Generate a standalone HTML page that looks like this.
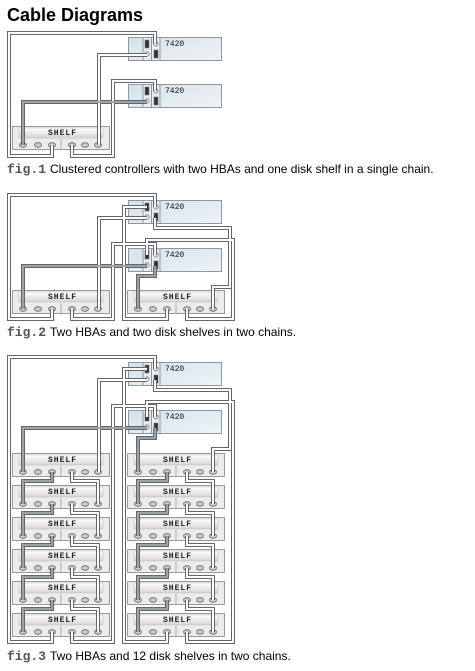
<!DOCTYPE html>
<html><head><meta charset="utf-8"><style>
body{margin:0;background:#fff;width:475px;height:671px;overflow:hidden;font-family:"Liberation Sans",sans-serif}
svg{position:absolute;left:0;top:0}
.o{stroke:#666;stroke-width:4;fill:none}
.i{stroke:#fff;stroke-width:2;fill:none}
.d{stroke:#97a3ad;stroke-width:2;fill:none}
.sh{font-family:"Liberation Mono",monospace;font-size:8px;font-weight:bold;letter-spacing:1px;fill:#222}
.ct{font-family:"Liberation Mono",monospace;font-size:8px;fill:#111}
.cap{font-size:12px;fill:#000}
.fg{font-family:"Liberation Mono",monospace;font-weight:bold;font-size:13px;fill:#555}
</style></head><body>
<svg width="475" height="671" viewBox="0 0 475 671">
<defs>
<linearGradient id="sg" x1="0" y1="0" x2="0" y2="1"><stop offset="0" stop-color="#fff"/><stop offset="1" stop-color="#d4d4d4"/></linearGradient>
<linearGradient id="cg" x1="0" y1="0" x2="1" y2="1"><stop offset="0" stop-color="#d6e2ea"/><stop offset="1" stop-color="#eef3f6"/></linearGradient>
<g id="shelf">
<rect x="0.5" y="0.5" width="97" height="23" fill="#ececec" stroke="#999"/>
<rect x="7" y="2" width="84" height="10" fill="url(#sg)" stroke="#bbb" stroke-width="0.5"/>
<line x1="49" y1="13" x2="49" y2="24" stroke="#aaa"/>
<g fill="#ccc" stroke="#666" stroke-width="0.8">
<ellipse cx="11" cy="19" rx="3.5" ry="2.3"/><ellipse cx="26" cy="19" rx="3.5" ry="2.3"/><ellipse cx="40" cy="19" rx="3.5" ry="2.3"/>
<ellipse cx="60" cy="19" rx="3.5" ry="2.3"/><ellipse cx="73" cy="19" rx="3.5" ry="2.3"/><ellipse cx="86" cy="19" rx="3.5" ry="2.3"/></g>
</g>
<g id="ctrl">
<rect x="0.5" y="0.5" width="93" height="23" fill="url(#cg)" stroke="#8a98a4"/>
<rect x="15" y="0.5" width="17" height="23" fill="#e6eef3" stroke="#8a98a4"/>
<line x1="23.5" y1="1" x2="23.5" y2="23" stroke="#8a98a4"/>
<g fill="#333" stroke="#777" stroke-width="0.6">
<rect x="17" y="3" width="4" height="8"/><rect x="26" y="13" width="4" height="8"/></g>
<g fill="#ddd" stroke="#666" stroke-width="0.6">
<circle cx="28" cy="7" r="2.2"/><circle cx="19" cy="17" r="2.2"/></g>
</g>
</defs>

<text x="7" y="21" font-size="18" font-weight="bold" fill="#000">Cable Diagrams</text>

<!-- fig1 -->
<use href="#ctrl" x="128" y="37"/><text class="ct" x="165" y="46">7420</text>
<use href="#ctrl" x="128" y="84"/><text class="ct" x="165" y="93">7420</text>
<use href="#shelf" x="12" y="126"/><text class="sh" x="48" y="135">SHELF</text>
<g class="o">
<path d="M155 44 V33 H9 V156 H52 V145"/>
<path d="M147 55 H99 V145"/>
<path d="M155 91 V81 H113 V156 H72 V145"/>
<path d="M147 102 H23 V145"/>
</g>
<path class="i" d="M155 44 V33 H9 V156 H52 V145"/>
<path class="i" d="M147 55 H99 V145"/>
<path class="i" d="M155 91 V81 H113 V156 H72 V145"/>
<path class="d" d="M147 102 H23 V145"/>
<text x="7" y="173"><tspan class="fg">fig.1</tspan><tspan class="cap" dx="4">Clustered controllers with two HBAs and one disk shelf in a single chain.</tspan></text>

<!-- fig2 -->
<use href="#ctrl" x="128" y="200"/><text class="ct" x="165" y="209">7420</text>
<use href="#ctrl" x="128" y="248"/><text class="ct" x="165" y="257">7420</text>
<use href="#shelf" x="12" y="290"/><text class="sh" x="48" y="299">SHELF</text>
<use href="#shelf" x="127" y="290"/><text class="sh" x="163" y="299">SHELF</text>
<g class="o">
<path d="M155 207 V195 H9 V319 H52 V309"/><path d="M147 218 H99 V309"/>
<path d="M155 218 V228 H230 V287 H213 V309"/><path d="M147 207 H124 V319 H167 V309"/>
<path d="M147 255 V240 H233 V319 H187 V309"/><path d="M155 255 V244 H113 V319 H72 V309"/>
<path d="M147 266 H23 V309"/><path d="M155 266 V276 H138 V309"/>
</g>
<g class="i">
<path d="M155 207 V195 H9 V319 H52 V309"/><path d="M147 218 H99 V309"/>
<path d="M155 218 V228 H230 V287 H213 V309"/><path d="M147 207 H124 V319 H167 V309"/>
<path d="M147 255 V240 H233 V319 H187 V309"/><path d="M155 255 V244 H113 V319 H72 V309"/>
</g>
<g class="d"><path d="M147 266 H23 V309"/><path d="M155 266 V276 H138 V309"/></g>
<text x="7" y="336"><tspan class="fg">fig.2</tspan><tspan class="cap" dx="4">Two HBAs and two disk shelves in two chains.</tspan></text>

<!-- fig3 -->
<use href="#ctrl" x="128" y="362"/><text class="ct" x="165" y="371">7420</text>
<use href="#ctrl" x="128" y="410"/><text class="ct" x="165" y="419">7420</text>
<use href="#shelf" x="12" y="453"/><text class="sh" x="48" y="462">SHELF</text>
<use href="#shelf" x="127" y="453"/><text class="sh" x="163" y="462">SHELF</text>
<use href="#shelf" x="12" y="485"/><text class="sh" x="48" y="494">SHELF</text>
<use href="#shelf" x="127" y="485"/><text class="sh" x="163" y="494">SHELF</text>
<use href="#shelf" x="12" y="517"/><text class="sh" x="48" y="526">SHELF</text>
<use href="#shelf" x="127" y="517"/><text class="sh" x="163" y="526">SHELF</text>
<use href="#shelf" x="12" y="549"/><text class="sh" x="48" y="558">SHELF</text>
<use href="#shelf" x="127" y="549"/><text class="sh" x="163" y="558">SHELF</text>
<use href="#shelf" x="12" y="581"/><text class="sh" x="48" y="590">SHELF</text>
<use href="#shelf" x="127" y="581"/><text class="sh" x="163" y="590">SHELF</text>
<use href="#shelf" x="12" y="613"/><text class="sh" x="48" y="622">SHELF</text>
<use href="#shelf" x="127" y="613"/><text class="sh" x="163" y="622">SHELF</text>
<g class="o">
<path d="M155 369 V357 H9 V642 H52 V632"/><path d="M147 380 H99 V472"/>
<path d="M155 380 V390 H230 V449 H213 V472"/><path d="M147 369 H124 V642 H167 V632"/>
<path d="M147 417 V402 H233 V642 H187 V632"/><path d="M155 417 V406 H113 V642 H72 V632"/>
<path d="M147 428 H23 V472"/><path d="M155 428 V438 H138 V472"/>
<path d="M52 472 V481 H23 V504 M52 504 V513 H23 V536 M52 536 V545 H23 V568 M52 568 V577 H23 V600 M52 600 V609 H23 V632"/>
<path d="M72 472 V481 H98 V504 M72 504 V513 H98 V536 M72 536 V545 H98 V568 M72 568 V577 H98 V600 M72 600 V609 H98 V632"/>
<path d="M167 472 V481 H138 V504 M167 504 V513 H138 V536 M167 536 V545 H138 V568 M167 568 V577 H138 V600 M167 600 V609 H138 V632"/>
<path d="M187 472 V481 H213 V504 M187 504 V513 H213 V536 M187 536 V545 H213 V568 M187 568 V577 H213 V600 M187 600 V609 H213 V632"/>
</g>
<g class="i">
<path d="M155 369 V357 H9 V642 H52 V632"/><path d="M147 380 H99 V472"/>
<path d="M155 380 V390 H230 V449 H213 V472"/><path d="M147 369 H124 V642 H167 V632"/>
<path d="M147 417 V402 H233 V642 H187 V632"/><path d="M155 417 V406 H113 V642 H72 V632"/>
<path d="M72 472 V481 H98 V504 M72 504 V513 H98 V536 M72 536 V545 H98 V568 M72 568 V577 H98 V600 M72 600 V609 H98 V632"/>
<path d="M187 472 V481 H213 V504 M187 504 V513 H213 V536 M187 536 V545 H213 V568 M187 568 V577 H213 V600 M187 600 V609 H213 V632"/>
</g>
<g class="d">
<path d="M147 428 H23 V472"/><path d="M155 428 V438 H138 V472"/>
<path d="M52 472 V481 H23 V504 M52 504 V513 H23 V536 M52 536 V545 H23 V568 M52 568 V577 H23 V600 M52 600 V609 H23 V632"/>
<path d="M167 472 V481 H138 V504 M167 504 V513 H138 V536 M167 536 V545 H138 V568 M167 568 V577 H138 V600 M167 600 V609 H138 V632"/>
</g>
<text x="7" y="660"><tspan class="fg">fig.3</tspan><tspan class="cap" dx="4">Two HBAs and 12 disk shelves in two chains.</tspan></text>
</svg>
</body></html>
